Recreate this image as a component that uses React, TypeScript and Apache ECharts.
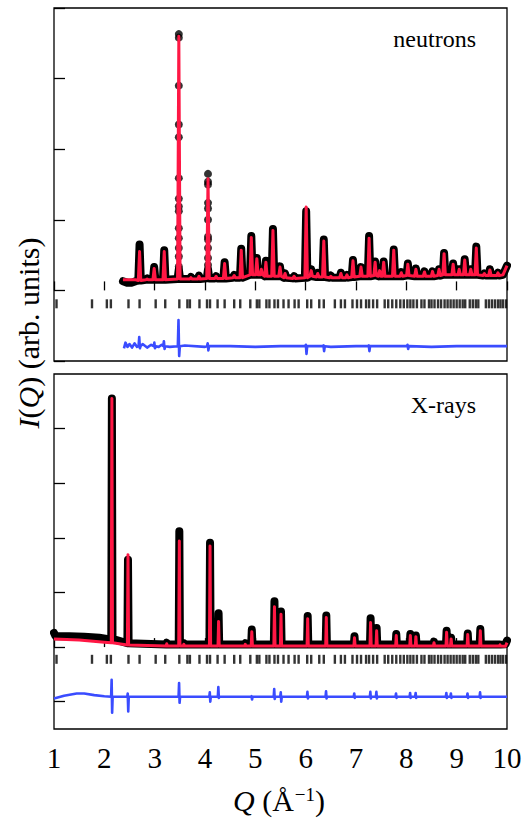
import React, { useEffect, useRef } from "react";
import * as echarts from "echarts";

// ---------- shared ----------
const qMin = 1;
const qMax = 10;
const reflectionQ = [
  1.05, 1.755, 2.05, 2.13, 2.48, 2.7, 3.02, 3.21, 3.49, 3.65, 3.7, 3.89, 4.04, 4.1,
  4.25, 4.39, 4.58, 4.7, 4.9, 5.03, 5.08, 5.22, 5.28, 5.38, 5.45, 5.56, 5.66, 5.78,
  5.86, 6.03, 6.11, 6.27, 6.36, 6.58, 6.7, 6.78, 6.93, 7.02, 7.1, 7.2, 7.26, 7.34,
  7.42, 7.57, 7.64, 7.72, 7.8, 7.88, 7.95, 8.02, 8.08, 8.14, 8.21, 8.3, 8.36, 8.45,
  8.5, 8.56, 8.63, 8.69, 8.76, 8.82, 8.88, 8.94, 9.0, 9.06, 9.12, 9.17, 9.26, 9.32,
  9.38, 9.43, 9.58, 9.64, 9.7, 9.76, 9.82, 9.87, 9.92, 9.98,
];

// ---------- neutrons panel ----------
const nStartObs = [[2.37, 0.13], [2.45, 0.11], [2.55, 0.11], [2.62, 0.13]];
const nStartCalc = [[2.37, 0.15], [2.62, 0.15]];
const nEnd = [[9.92, 0.22], [10.0, 0.35]];
const nPeakQ = [
  2.7, 2.85, 2.99, 3.19, 3.48, 3.72, 3.88, 4.06, 4.22, 4.39, 4.58, 4.72, 4.92, 5.03,
  5.12, 5.21, 5.35, 5.49, 5.59, 5.77, 6.01, 6.11, 6.24, 6.36, 6.5, 6.7, 6.82, 6.94,
  7.1, 7.26, 7.38, 7.47, 7.55, 7.75, 7.9, 8.03, 8.19, 8.36, 8.52, 8.65, 8.75, 8.93,
  9.05, 9.16, 9.28, 9.39, 9.55, 9.66, 9.82,
];
const nBase = [
  0.14, 0.15, 0.15, 0.15, 0.16, 0.16, 0.16, 0.17, 0.17, 0.17, 0.18, 0.18, 0.22, 0.22,
  0.22, 0.2, 0.2, 0.2, 0.18, 0.17, 0.18, 0.2, 0.19, 0.19, 0.18, 0.18, 0.18, 0.19,
  0.2, 0.2, 0.21, 0.2, 0.2, 0.2, 0.2, 0.21, 0.2, 0.2, 0.2, 0.21, 0.22, 0.22,
  0.22, 0.22, 0.22, 0.22, 0.21, 0.21, 0.21,
];
const nObsTop = [
  0.65, 0.17, 0.33, 0.57, 0.3, 0.19, 0.21, 0.3, 0.2, 0.4, 0.22, 0.59, 0.77, 0.46,
  0.3, 0.42, 0.87, 0.34, 0.24, 0.2, 1.12, 0.3, 0.25, 0.72, 0.21, 0.25, 0.22, 0.43,
  0.33, 0.77, 0.41, 0.28, 0.41, 0.58, 0.26, 0.38, 0.31, 0.27, 0.27, 0.3, 0.53, 0.38,
  0.3, 0.44, 0.3, 0.62, 0.24, 0.3, 0.25,
];
const nCalcTop = [
  0.55, 0.16, 0.31, 0.55, 3.6, 0.18, 0.2, 1.58, 0.2, 0.38, 0.21, 0.57, 0.75, 0.45,
  0.3, 0.4, 0.85, 0.33, 0.24, 0.2, 1.18, 0.28, 0.24, 0.7, 0.2, 0.24, 0.22, 0.42,
  0.33, 0.74, 0.4, 0.28, 0.4, 0.57, 0.25, 0.37, 0.3, 0.26, 0.27, 0.3, 0.52, 0.37,
  0.3, 0.43, 0.3, 0.6, 0.24, 0.29, 0.25,
];
const nDotsQ348 = 3.48;
const nDots348 = [3.63, 3.58, 2.9, 2.35, 2.17, 1.59, 1.3, 1.19, 1.12, 0.88, 0.74, 0.6, 0.48, 0.34];
const nDotsQ406 = 4.06;
const nDots406 = [1.65, 1.54, 1.5, 1.24, 1.16, 1.0, 0.76, 0.72, 0.6, 0.46, 0.36];
const nDiffBase = [
  [2.39, -0.82], [2.42, -0.74], [2.46, -0.8], [2.5, -0.76], [2.55, -0.81], [2.6, -0.75],
  [2.65, -0.8], [2.76, -0.76], [2.85, -0.81], [2.93, -0.77], [3.08, -0.8], [3.14, -0.77],
  [3.3, -0.8], [3.6, -0.78], [4.0, -0.8], [4.5, -0.79], [5.0, -0.8], [5.5, -0.79],
  [6.5, -0.8], [7.0, -0.79], [8.5, -0.8], [9.0, -0.79], [10.0, -0.79],
];
const nDiffQ = [2.7, 3.0, 3.19, 3.48, 4.06, 6.01, 6.36, 7.26, 8.03];
const nDiffUp = [-0.66, -0.74, -0.72, -0.42, -0.75, -0.77, -0.78, -0.78, -0.77];
const nDiffDown = [-0.82, -0.82, -0.83, -0.93, -0.85, -0.9, -0.86, -0.86, -0.83];
const nDiffLevel = -0.79;
const nTickLevel = -0.19;

// ---------- X-ray panel ----------
const xStartObs = [[1.0, 0.26], [1.03, 0.2], [1.3, 0.2], [1.6, 0.19], [1.9, 0.17], [2.05, 0.15]];
const xStartCalc = [[1.0, 0.15], [1.5, 0.13], [2.0, 0.09]];
const xEndObs = [[9.97, 0.05], [10.0, 0.12]];
const xEndCalc = [[9.97, 0.015], [10.0, 0.08]];
const xPeakQ = [
  2.15, 2.47, 3.24, 3.49, 3.58, 4.1, 4.27, 4.8, 4.93, 5.38, 5.51, 6.04, 6.41, 6.97,
  7.29, 7.41, 7.8, 8.08, 8.19, 8.55, 8.8, 8.89, 9.22, 9.47, 9.86,
];
const xObsTop = [
  4.55, 1.6, 0.08, 2.12, 0.07, 1.91, 0.62, 0.07, 0.32, 0.84, 0.65, 0.57, 0.58, 0.2,
  0.53, 0.35, 0.24, 0.24, 0.21, 0.1, 0.3, 0.17, 0.25, 0.33, 0.05,
];
const xCalcTop = [
  4.55, 1.69, 0.06, 1.94, 0.05, 1.85, 0.47, 0.05, 0.28, 0.74, 0.6, 0.52, 0.54, 0.17,
  0.45, 0.3, 0.21, 0.21, 0.19, 0.08, 0.27, 0.15, 0.23, 0.3, 0.04,
];
const xObsBase = [
  0.15, 0.07, 0.045, 0.045, 0.045, 0.045, 0.045, 0.045, 0.045, 0.045, 0.045, 0.045, 0.045,
  0.045, 0.045, 0.045, 0.045, 0.045, 0.045, 0.045, 0.045, 0.045, 0.045, 0.045, 0.045,
];
const xCalcBase = [
  0.08, 0.04, 0.02, 0.02, 0.02, 0.02, 0.02, 0.02, 0.02, 0.02, 0.02, 0.02, 0.02,
  0.02, 0.02, 0.02, 0.02, 0.02, 0.02, 0.02, 0.02, 0.02, 0.02, 0.02, 0.02,
];
const xDiffBase = [
  [1.0, -0.94], [1.2, -0.89], [1.45, -0.85], [1.6, -0.85], [1.8, -0.88], [2.0, -0.9], [10.0, -0.91],
];
const xDiffQ = [
  2.15, 2.47, 3.49, 4.1, 4.27, 4.93, 5.38, 5.51, 6.04, 6.41, 6.97, 7.29, 7.41, 7.8,
  8.08, 8.19, 8.8, 8.89, 9.22, 9.47,
];
const xDiffUp = [
  -0.6, -0.85, -0.66, -0.83, -0.73, -0.9, -0.77, -0.83, -0.82, -0.81, -0.85, -0.82, -0.82,
  -0.85, -0.84, -0.84, -0.84, -0.85, -0.85, -0.83,
];
const xDiffDown = [
  -1.2, -1.18, -1.02, -1.0, -0.93, -0.96, -0.95, -1.0, -0.94, -0.94, -0.93, -0.94, -0.94,
  -0.93, -0.93, -0.93, -0.93, -0.93, -0.93, -0.93,
];
const xDiffLevel = -0.91;
const xTickLevel = -0.224;

// ---------- builders ----------
type P = number[];
const byQ = (a: P, b: P) => a[0] - b[0];

function profile(start: P[], qs: number[], bases: number[], tops: number[], end: P[], hw: number): P[] {
  const pts: P[] = [...start];
  qs.forEach((q, i) => {
    pts.push([q - hw, bases[i]], [q, tops[i]], [q + hw, bases[i]]);
  });
  pts.push(...end);
  return pts.sort(byQ);
}

function diffCurve(base: P[], qs: number[], up: number[], down: number[], level: number, hw: number): P[] {
  const pts: P[] = [...base];
  qs.forEach((q, i) => {
    pts.push([q - hw, level], [q - hw / 3, up[i]], [q + hw / 3, down[i]], [q + hw, level]);
  });
  return pts.sort(byQ);
}

const SERIF = "Liberation Serif, DejaVu Serif, serif";
const RED = "#ff1744";
const BLUE = "#3a4cff";
const tickStyle = { color: "#000", width: 1.3 };

function buildOption() {
  const nObs = profile(nStartObs, nPeakQ, nBase, nObsTop, nEnd, 0.025);
  const nCalc = profile(nStartCalc, nPeakQ, nBase, nCalcTop, nEnd, 0.025);
  const nDots = [
    ...nDots348.map((v) => [nDotsQ348, v]),
    ...nDots406.map((v) => [nDotsQ406, v]),
  ];
  const nDiff = diffCurve(nDiffBase, nDiffQ, nDiffUp, nDiffDown, nDiffLevel, 0.02);
  const xObs = profile(xStartObs, xPeakQ, xObsBase, xObsTop, xEndObs, 0.012);
  const xCalc = profile(xStartCalc, xPeakQ, xCalcBase, xCalcTop, xEndCalc, 0.012);
  const xDiff = diffCurve(xDiffBase, xDiffQ, xDiffUp, xDiffDown, xDiffLevel, 0.015);

  const obsLine = (xi: number, data: P[]) => ({
    type: "line", xAxisIndex: xi, yAxisIndex: xi, data, symbol: "none", silent: true, z: 2,
    lineStyle: { color: "#000", width: 8, cap: "round", join: "round" },
  });
  const calcLine = (xi: number, data: P[]) => ({
    type: "line", xAxisIndex: xi, yAxisIndex: xi, data, symbol: "none", silent: true, z: 4,
    lineStyle: { color: RED, width: 3, join: "round" },
  });
  const ticks = (xi: number, level: number) => ({
    type: "scatter", xAxisIndex: xi, yAxisIndex: xi, silent: true, z: 3,
    symbol: "rect", symbolSize: [2.4, 9], itemStyle: { color: "#000" },
    data: reflectionQ.map((q) => [q, level]),
  });
  const diffLine = (xi: number, data: P[]) => ({
    type: "line", xAxisIndex: xi, yAxisIndex: xi, data, symbol: "none", silent: true, z: 3,
    lineStyle: { color: BLUE, width: 2.6, join: "round" },
  });

  const xAxisBase = {
    type: "value", min: qMin, max: qMax, interval: 1,
    axisLine: { show: false },
    axisTick: { inside: true, length: 9, lineStyle: tickStyle },
    splitLine: { show: false },
  };

  return {
    animation: false,
    backgroundColor: "#fff",
    grid: [
      { left: 54, top: 8, width: 453, height: 353, show: true, borderColor: "#000", borderWidth: 1.3, backgroundColor: "transparent" },
      { left: 54, top: 374, width: 453, height: 355, show: true, borderColor: "#000", borderWidth: 1.3, backgroundColor: "transparent" },
    ],
    xAxis: [
      { ...xAxisBase, gridIndex: 0, axisLabel: { show: false } },
      {
        ...xAxisBase, gridIndex: 1,
        axisLabel: { show: true, color: "#000", fontFamily: SERIF, fontSize: 29, margin: 14 },
      },
    ],
    yAxis: [
      {
        gridIndex: 0, type: "value", min: -1, max: 4, interval: 1,
        axisLine: { show: false }, axisLabel: { show: false }, splitLine: { show: false },
        axisTick: { inside: true, length: 11, lineStyle: tickStyle },
      },
      {
        gridIndex: 1, type: "value", min: -1.5, max: 5,
        axisLine: { show: false }, axisLabel: { show: false }, splitLine: { show: false },
        axisTick: { inside: true, length: 11, lineStyle: tickStyle, customValues: [-1, 0, 1, 2, 3, 4] },
      },
    ],
    series: [
      obsLine(0, nObs),
      {
        type: "scatter", xAxisIndex: 0, yAxisIndex: 0, data: nDots, silent: true, z: 2,
        symbol: "circle", symbolSize: 8, itemStyle: { color: "#000" },
      },
      calcLine(0, nCalc),
      ticks(0, nTickLevel),
      diffLine(0, nDiff),
      obsLine(1, xObs),
      calcLine(1, xCalc),
      ticks(1, xTickLevel),
      diffLine(1, xDiff),
    ],
    graphic: [
      {
        type: "text", x: 476, y: 39, silent: true,
        style: { text: "neutrons", fontFamily: SERIF, fontSize: 24, fill: "#000", align: "right", verticalAlign: "middle" },
      },
      {
        type: "text", x: 476, y: 405, silent: true,
        style: { text: "X-rays", fontFamily: SERIF, fontSize: 24, fill: "#000", align: "right", verticalAlign: "middle" },
      },
      {
        type: "text", x: 28, y: 333, rotation: Math.PI / 2, silent: true,
        style: {
          text: "{i|I}{t|(}{i|Q}{t|) (arb. units)}",
          fontFamily: SERIF, fontSize: 30, fill: "#000", align: "center", verticalAlign: "middle",
          rich: {
            i: { fontFamily: SERIF, fontSize: 30, fontStyle: "italic", fill: "#000" },
            t: { fontFamily: SERIF, fontSize: 30, fill: "#000" },
          },
        },
      },
      {
        type: "text", x: 279, y: 800, silent: true,
        style: {
          text: "{q|Q}{t| (Å}{s|−1}{t|)}",
          fontFamily: SERIF, fontSize: 30, fill: "#000", align: "center", verticalAlign: "middle",
          rich: {
            q: { fontFamily: SERIF, fontSize: 30, fontStyle: "italic", fill: "#000", lineHeight: 30, verticalAlign: "bottom" },
            t: { fontFamily: SERIF, fontSize: 30, fill: "#000", lineHeight: 30, verticalAlign: "bottom" },
            s: { fontFamily: SERIF, fontSize: 19, fill: "#000", lineHeight: 19, verticalAlign: "top", padding: [0, 0, 18, 1] },
          },
        },
      },
    ],
  };
}

export default function App() {
  const ref = useRef<HTMLDivElement>(null);
  useEffect(() => {
    if (!ref.current) return;
    const chart = echarts.init(ref.current, null, { renderer: "svg" });
    chart.setOption(buildOption() as any);
    return () => chart.dispose();
  }, []);
  return (
    <div
      ref={ref}
      style={{ position: "absolute", left: 0, top: 0, width: 527, height: 821, background: "#fff" }}
    />
  );
}
